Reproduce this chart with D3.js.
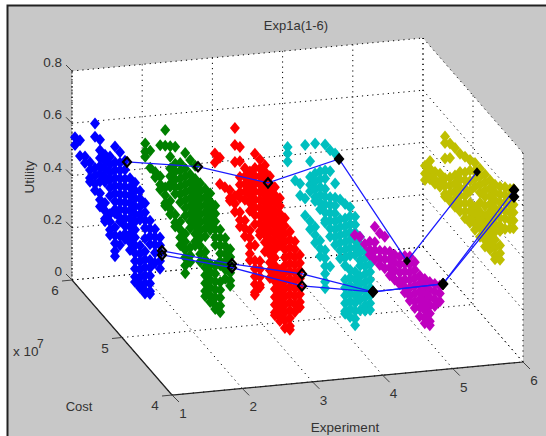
<!DOCTYPE html>
<html>
<head>
<meta charset="utf-8">
<script src="https://d3js.org/d3.v7.min.js"></script>
<style>
html, body { margin: 0; padding: 0; background: #fff; }
text { font-family: "Liberation Sans", Arial, sans-serif; fill: #333; }
</style>
</head>
<body>
<div id="chart"></div>
<script>
const width = 546;
const height = 436;

const experiments = [1, 2, 3, 4, 5, 6];
const xTicks = [1, 2, 3, 4, 5, 6];
const costTicks = [4, 5, 6];
const utilityTicks = [0, 0.2, 0.4, 0.6, 0.8];
const utilityLabels = ['0', '0.2', '0.4', '0.6', '0.8'];

// cost (x 10^7) columns and the utilities read in each column, one pair per experiment
const cost1 = [5.94,5.84,5.74,5.64,5.54,5.44,5.34,5.24,5.14,5.04,4.94,4.84,4.74,4.64,4.54,4.44,4.34,4.24];
const utility1 = [
  [.53,.56],[.57,.51],[.53,.505],[.53,.50,.47,.455],[.70,.65,.53,.50,.47,.445],
  [.66,.62,.59,.56,.53,.50,.455,.43,.405],[.625,.60,.57,.54,.52,.44,.41,.38,.37],
  [.64,.61,.58,.55,.52,.49,.42,.39,.36,.34],[.70,.64,.61,.58,.55,.52,.49,.46,.445,.39,.36,.33,.30,.28],
  [.70,.66,.63,.60,.57,.54,.51,.48,.45,.435,.38,.345],[.69,.655,.62,.59,.56,.53,.50,.47,.44,.41,.39],
  [.645,.61,.58,.55,.52,.49,.46,.43,.40,.37],[.65,.62,.59,.56,.53,.50,.47,.44,.41,.38,.35,.32,.29,.27],
  [.64,.61,.58,.55,.53,.43,.40,.37,.34,.31,.28,.27],[.615,.58,.55,.52,.48,.43,.40,.37,.34,.31,.28,.27],
  [.57,.54,.51,.48,.42,.39,.36,.33,.30,.29],[.56,.53,.50,.47,.43],[.55,.52,.49,.46,.43]
];

const cost2 = [5.94,5.84,5.74,5.64,5.54,5.44,5.34,5.24,5.14,5.04,4.94,4.84,4.74,4.64,4.54,4.44,4.34,4.24];
const utility2 = [
  [.51,.48,.46],[.505,.44],[.445,.425],[.57,.45,.42,.40],[.65,.59,.43,.40,.37,.36],
  [.61,.57,.525,.495,.465,.455,.40,.37,.35],[.63,.565,.535,.505,.475,.45,.37,.34,.325],
  [.59,.56,.53,.50,.47,.44,.365,.335,.305,.275],[.65,.59,.56,.53,.50,.47,.44,.41,.34,.31,.28,.25,.22,.19],
  [.645,.59,.56,.53,.50,.47,.44,.41,.385,.31,.28,.255],[.645,.595,.565,.535,.505,.475,.445,.415,.385,.355,.34],
  [.60,.57,.54,.51,.48,.45,.42,.39,.36,.33,.30],[.60,.57,.54,.51,.48,.45,.42,.36,.33,.30,.27,.24,.21,.19],
  [.605,.575,.545,.515,.485,.465,.335,.305,.275,.245,.215,.19],[.58,.55,.52,.49,.46,.43,.35,.32,.29,.26,.23,.20,.185],
  [.51,.48,.45,.42,.39,.375,.31,.28,.25,.22,.195],[.50,.47,.44,.41,.38,.345],[.48,.45,.42,.39,.36,.34]
];

const cost3 = [5.95,5.85,5.75,5.65,5.55,5.45,5.35,5.25,5.15,5.05,4.95,4.85,4.75,4.65,4.55,4.45,4.35,4.25];
const utility3 = [
  [.445,.41],[.45,.35],[.36],[.37,.34,.33],[.63,.565,.50,.37,.34,.31],
  [.58,.525,.465,.435,.405,.385,.33,.30,.275],[.52,.49,.46,.43,.40,.32,.29,.26],
  [.53,.50,.47,.44,.41,.38,.305,.275,.245,.215,.19],[.62,.565,.535,.505,.475,.445,.415,.385,.35,.27,.21,.18,.15,.12,.09,.08],
  [.62,.585,.555,.525,.495,.465,.435,.405,.375,.345,.33,.23,.20,.17,.14,.13],
  [.62,.595,.565,.535,.505,.475,.445,.415,.385,.355,.325,.29],
  [.60,.57,.54,.51,.48,.45,.42,.39,.36,.33,.30,.27,.24,.21],
  [.58,.55,.52,.49,.46,.43,.40,.37,.34,.31,.28,.25,.22,.19,.16,.13,.10,.09],
  [.56,.53,.50,.47,.44,.41,.38,.285,.255,.225,.195,.165,.135,.105,.09],
  [.505,.475,.445,.415,.385,.355,.325,.295,.265,.235,.205,.175,.145,.115,.085],
  [.475,.445,.415,.385,.355,.325,.295,.265,.235,.205,.175,.145,.115,.10],
  [.46,.43,.40,.37,.34,.31,.28,.25,.22,.19],[.43,.40,.37,.34,.31,.28,.25,.23]
];

const cost4 = [5.90,5.75,5.65,5.55,5.45,5.35,5.25,5.15,5.05,4.95,4.85,4.75,4.65,4.55,4.45,4.35,4.25];
const utility4 = [
  [.455,.43,.40],[.36],[.37,.325],[.54,.335,.27],[.50,.44,.41,.385,.27,.24],
  [.59,.475,.445,.415,.385,.37,.27,.24,.21],[.505,.475,.445,.415,.385,.36,.24,.21,.18],
  [.63,.53,.50,.46,.43,.40,.37,.34,.33,.225,.195,.165,.135,.105,.08],
  [.63,.55,.45,.42,.39,.36,.33,.30,.185],[.64,.525,.47,.44,.41,.38,.35,.32,.29],
  [.485,.41,.38,.35,.32,.29,.26],[.49,.435,.405,.375,.345,.315,.285,.255,.20,.17,.14,.11,.08,.07],
  [.50,.465,.435,.405,.375,.345,.315,.26,.23,.20,.17,.14,.11,.08],
  [.485,.455,.425,.395,.365,.34,.275,.245,.215,.185,.155,.125,.095,.07],
  [.43,.40,.37,.34,.32,.28,.25,.22,.19,.15],[.40,.37,.34,.31,.28,.25,.22,.19,.17],[.37,.34,.31,.28,.25,.22,.195]
];

const cost5 = [5.96,5.86,5.76,5.66,5.56,5.46,5.36,5.26,5.16,5.06,4.96,4.86,4.76,4.66,4.56,4.46,4.36,4.26];
const utility5 = [
  [.08],[.095],[.09],[.12,.09,.07],[.20,.14,.11,.075],[.197,.13,.10,.075],[.205,.15,.12,.085],
  [.17,.14,.11,.08],[.18,.15,.12,.085],[.195,.165,.135,.105,.09],[.22,.19,.16,.13,.10,.08],
  [.24,.21,.18,.15,.12,.09,.07],[.24,.21,.18,.15,.12,.09,.065],[.21,.18,.15,.12,.09,.055],
  [.22,.19,.16,.13,.10,.07,.05],[.23,.20,.17,.14,.11,.08,.065],[.245,.215,.185,.16],[.26,.23,.20]
];

const cost6 = [5.96,5.86,5.76,5.66,5.56,5.46,5.36,5.26,5.16,5.06,4.96,4.86,4.76,4.66,4.56,4.46,4.36,4.26,4.19];
const utility6 = [
  [.32,.29,.265],[.36,.33,.30,.29],[.34,.31,.295],[.355,.325,.305],[.52,.495,.436,.36,.33,.30,.29],
  [.515,.46,.385,.355,.325,.295],[.52,.415,.385,.355,.325,.295],[.52,.45,.42,.39,.36,.33,.30],
  [.53,.47,.44,.41,.38,.35,.32,.295],[.54,.50,.46,.42,.375,.345,.315,.30],[.55,.52,.49,.46,.38,.35,.32,.295],
  [.55,.52,.49,.46,.42,.385,.355,.325,.29],[.55,.52,.49,.465,.43,.39,.36,.33,.30,.275],
  [.55,.52,.49,.46,.43,.40,.37,.34,.31,.285],[.555,.525,.495,.465,.435,.405,.375,.345,.315,.285,.27],
  [.57,.54,.51,.48,.45,.42,.40,.345,.315,.29],[.59,.56,.53,.50,.47,.43],[.605,.575,.545,.515,.485,.455],
  [.62,.59,.56,.53,.50,.47]
];

const seriesCost = [cost1, cost2, cost3, cost4, cost5, cost6];
const seriesUtility = [utility1, utility2, utility3, utility4, utility5, utility6];
const seriesColor = ['#0000ff', '#008000', '#ff0000', '#00bfbf', '#bf00bf', '#bfbf00'];

// the three chains through the black markers
const chainCost = [
  [4.90, 4.884, 4.888, 4.872, 4.916, 4.92],
  [4.20, 4.204, 4.208, 4.192, 4.196, 4.18],
  [4.20, 4.204, 4.208, 4.192, 4.196, 4.18]
];
const chainUtility = [
  [.694, .654, .566, .636, .210, .525],
  [.508, .432, .367, .277, .281, .619],
  [.492, .417, .321, .277, .281, .593]
];

// 3D box, orthographic view
const originX = 172;
const originY = 395;
const xToPx = d3.scaleLinear().domain([1, 6]).range([0, 351]);
const xToPy = d3.scaleLinear().domain([1, 6]).range([0, -33]);
const costToPx = d3.scaleLinear().domain([4, 6]).range([0, -100]);
const costToPy = d3.scaleLinear().domain([4, 6]).range([0, -115]);
const utilityToPy = d3.scaleLinear().domain([0, 0.8]).range([0, -209]);

function project(x, y, z) {
  return [
    originX + xToPx(x) + costToPx(y),
    originY + xToPy(x) + costToPy(y) + utilityToPy(z)
  ];
}

const svg = d3.select('#chart')
  .append('svg')
  .attr('width', width)
  .attr('height', height)
  .style('display', 'block');

// figure background
svg.append('rect')
  .attr('x', 7.5)
  .attr('y', 5.5)
  .attr('width', width)
  .attr('height', height)
  .attr('fill', '#c8c8c8')
  .attr('stroke', '#222')
  .attr('stroke-width', 2);

// white box faces
const outline = [[1, 6, .8], [6, 6, .8], [6, 4, .8], [6, 4, 0], [1, 4, 0], [1, 6, 0]];
svg.append('polygon')
  .attr('points', outline.map((p) => project(p[0], p[1], p[2]).join(',')).join(' '))
  .attr('fill', '#fff');

// grid
const gridSegments = [];
xTicks.forEach((x) => {
  gridSegments.push([[x, 4, 0], [x, 6, 0]]);
  gridSegments.push([[x, 6, 0], [x, 6, .8]]);
});
utilityTicks.forEach((z) => {
  gridSegments.push([[1, 6, z], [6, 6, z]]);
  gridSegments.push([[6, 6, z], [6, 4, z]]);
});
costTicks.forEach((y) => {
  gridSegments.push([[1, y, 0], [6, y, 0]]);
  gridSegments.push([[6, y, 0], [6, y, .8]]);
});

svg.append('g')
  .selectAll('line')
  .data(gridSegments)
  .enter()
  .append('line')
  .attr('x1', (d) => project(...d[0])[0])
  .attr('y1', (d) => project(...d[0])[1])
  .attr('x2', (d) => project(...d[1])[0])
  .attr('y2', (d) => project(...d[1])[1])
  .attr('stroke', '#000')
  .attr('stroke-width', 1)
  .attr('stroke-dasharray', '1.2 4');

// left vertical edge, dotted tighter
const leftBottom = project(1, 6, 0);
const leftTop = project(1, 6, .8);
svg.append('line')
  .attr('x1', leftBottom[0])
  .attr('y1', leftBottom[1])
  .attr('x2', leftTop[0])
  .attr('y2', leftTop[1])
  .attr('stroke', '#000')
  .attr('stroke-width', 1)
  .attr('stroke-dasharray', '1.5 2');

// scatter clouds
const diamond = 'M0,-6L5,0L0,6L-5,0Z';

seriesUtility.forEach((columns, s) => {
  const points = columns.flatMap((list, i) => list.map((z) => project(experiments[s], seriesCost[s][i], z)));
  svg.append('g')
    .attr('class', 'cloud')
    .selectAll('path')
    .data(points)
    .enter()
    .append('path')
    .attr('d', diamond)
    .attr('transform', (d) => 'translate(' + d[0] + ',' + d[1] + ')')
    .attr('fill', seriesColor[s]);
});

// chains
const chainLine = d3.line();
chainCost.forEach((costs, c) => {
  const points = costs.map((y, i) => project(experiments[i], y, chainUtility[c][i]));
  svg.append('path')
    .attr('d', chainLine(points))
    .attr('fill', 'none')
    .attr('stroke', '#1a1aff')
    .attr('stroke-width', 1.3);
  svg.append('g')
    .selectAll('path')
    .data(points)
    .enter()
    .append('path')
    .attr('d', (d, i) => (c === 0 && i >= 4) ? 'M0,-3L2.5,0L0,3L-2.5,0Z' : 'M0,-4.6L4,0L0,4.6L-4,0Z')
    .attr('transform', (d) => 'translate(' + d[0] + ',' + d[1] + ')')
    .attr('fill', (d, i) => (i >= 3) ? '#000' : 'none')
    .attr('stroke', '#000')
    .attr('stroke-width', 2.2);
});

// front edges
const frontLine = d3.line();
svg.append('path')
  .attr('d', frontLine([project(1, 6, 0), project(1, 4, 0), project(6, 4, 0)]))
  .attr('fill', 'none')
  .attr('stroke', '#222')
  .attr('stroke-width', 1.2);

// ticks and tick labels
const tickColor = '#444';

utilityTicks.forEach((z, i) => {
  const p = project(1, 6, z);
  svg.append('line')
    .attr('x1', p[0]).attr('y1', p[1])
    .attr('x2', p[0] - 6).attr('y2', p[1] - 6)
    .attr('stroke', tickColor);
  svg.append('text')
    .attr('x', p[0] - 10)
    .attr('y', p[1] - 4)
    .attr('text-anchor', 'end')
    .attr('font-size', 13.5)
    .text(utilityLabels[i]);
});

costTicks.forEach((y) => {
  const p = project(1, y, 0);
  svg.append('line')
    .attr('x1', p[0]).attr('y1', p[1])
    .attr('x2', p[0] - 10).attr('y2', p[1] + 1)
    .attr('stroke', tickColor);
  svg.append('text')
    .attr('x', p[0] - 17)
    .attr('y', p[1] + 15)
    .attr('text-anchor', 'middle')
    .attr('font-size', 13.5)
    .text(y);
});

xTicks.forEach((x) => {
  const p = project(x, 4, 0);
  svg.append('line')
    .attr('x1', p[0]).attr('y1', p[1])
    .attr('x2', p[0] + 7).attr('y2', p[1] + 7)
    .attr('stroke', tickColor);
  svg.append('text')
    .attr('x', p[0] + 11)
    .attr('y', p[1] + 23)
    .attr('text-anchor', 'middle')
    .attr('font-size', 13.5)
    .text(x);
});

// titles
svg.append('text')
  .attr('x', 296)
  .attr('y', 30)
  .attr('text-anchor', 'middle')
  .attr('font-size', 13)
  .text('Exp1a(1-6)');

svg.append('text')
  .attr('transform', 'translate(34,177) rotate(-90)')
  .attr('text-anchor', 'middle')
  .attr('font-size', 13.5)
  .text('Utility');

svg.append('text')
  .attr('x', 79)
  .attr('y', 411)
  .attr('text-anchor', 'middle')
  .attr('font-size', 13)
  .text('Cost');

svg.append('text')
  .attr('x', 345)
  .attr('y', 432)
  .attr('text-anchor', 'middle')
  .attr('font-size', 13.5)
  .text('Experiment');

svg.append('text')
  .attr('x', 13)
  .attr('y', 356)
  .attr('font-size', 13.5)
  .text('x 10');

svg.append('text')
  .attr('x', 37)
  .attr('y', 348)
  .attr('font-size', 12)
  .text('7');
</script>
</body>
</html>
